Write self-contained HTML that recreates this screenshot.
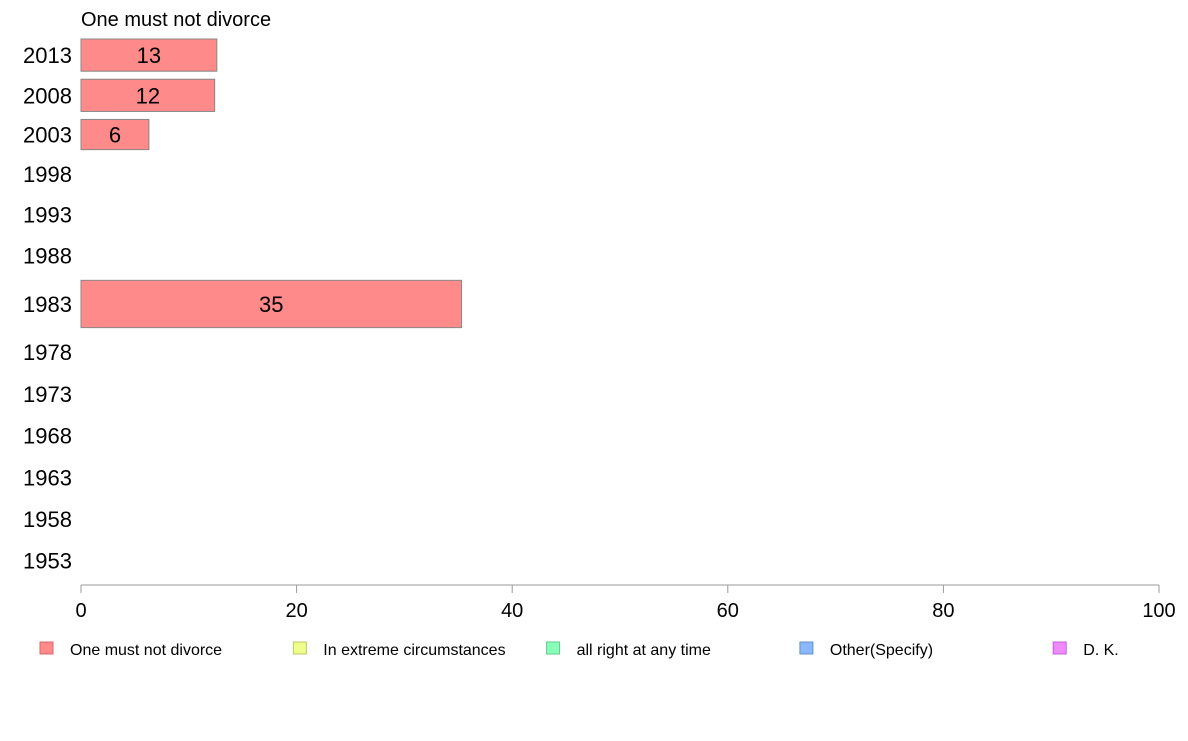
<!DOCTYPE html>
<html><head><meta charset="utf-8"><style>
body{margin:0;background:#fff;}
svg text{font-family:"Liberation Sans",Arial,sans-serif;}
</style></head><body>
<svg id="c" width="1188" height="736"></svg>
<script>
const years=["2013","2008","2003","1998","1993","1988","1983","1978","1973","1968","1963","1958","1953"];
const seriesNames=["One must not divorce","In extreme circumstances","all right at any time","Other(Specify)","D. K."];
const mustNot=[12.6,12.4,6.3,null,null,null,35.3,null,null,null,null,null,null];
const rowWeights=[40,40,38,40,41,41,55,41,42,41,42,41,41];
const xTicks=[0,20,40,60,80,100];
const colors=["#ff8a8a","#f0ff8a","#8affb8","#8ab8ff","#f08aff"];
const strokes=["#d66","#bbc860","#60c890","#6090d0","#c060d0"];
const ns="http://www.w3.org/2000/svg";
const svgEl=document.getElementById('c');
const x0=81,x1=1159,topY=35,axisY=585;
const xs=v=>x0+(x1-x0)*v/100;
function mk(t,a,p){const e=document.createElementNS(ns,t);for(const k in a)e.setAttribute(k,a[k]);(p||svgEl).appendChild(e);return e;}
const title=mk('text',{x:81,y:26,'font-size':20,fill:'#000'});


title.textContent="One must not divorce";
const totalW=rowWeights.reduce((a,b)=>a+b,0);
const scaleY=(axisY-4-topY)/totalW;
let yPos=topY;
years.forEach((yr,i)=>{
  const h=rowWeights[i]*scaleY, cy=yPos+h/2;
  const lab=mk('text',{x:72,y:cy+8,'font-size':22,'text-anchor':'end',fill:'#000'});
  
  
  lab.textContent=yr;
  const v=mustNot[i];
  if(v!=null){
    const bh=h-8;
    const r=mk('rect',{x:x0,y:cy-bh/2,width:xs(v)-x0,height:bh,fill:colors[0],stroke:'#888','stroke-width':1});
    
    
    const t=mk('text',{x:(x0+xs(v))/2,y:cy+8,'font-size':22,'text-anchor':'middle',fill:'#000'});
    
    
    t.textContent=Math.round(v);
  }
  yPos+=h;
});
const ax=mk('line',{x1:x0,y1:axisY,x2:x1,y2:axisY,stroke:'#999','stroke-width':1});


xTicks.forEach(v=>{
  const tk=mk('line',{x1:xs(v),y1:axisY,x2:xs(v),y2:axisY+8,stroke:'#999'});
  
  
  const t=mk('text',{x:xs(v),y:axisY+32,'font-size':20,'text-anchor':'middle',fill:'#000'});
  
  
  t.textContent=v;
});
seriesNames.forEach((n,i)=>{
  const lx=40+i*253.3;
  const g=mk('g',{});
  
  
  mk('rect',{x:lx,y:642,width:13,height:12,fill:colors[i],stroke:strokes[i]},g);
  const t=mk('text',{x:lx+30,y:655,'font-size':16,fill:'#000'},g);
  t.textContent=n;
});
</script>
</body></html>
